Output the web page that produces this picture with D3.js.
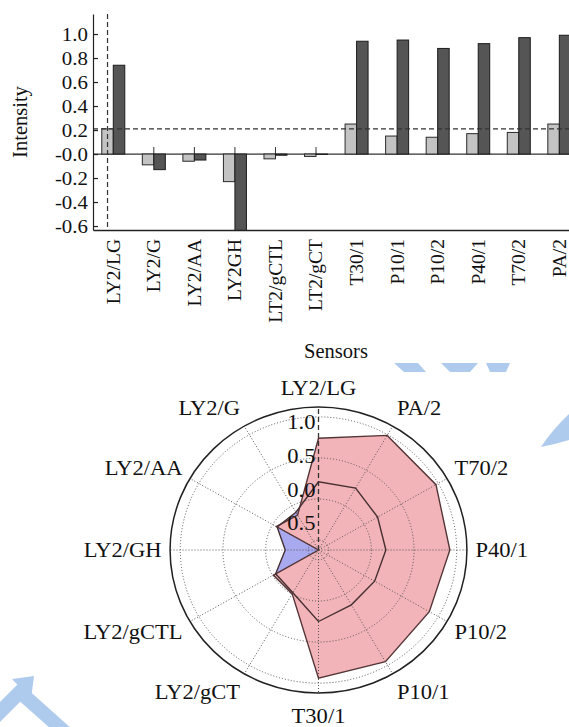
<!DOCTYPE html>
<html>
<head>
<meta charset="utf-8">
<script src="https://cdn.jsdelivr.net/npm/d3@7"></script>
<style>
  body { margin: 0; background: #fff; }
  svg { display: block; font-family: "Liberation Serif", "Times New Roman", serif; }
</style>
</head>
<body>
<svg id="chart" width="569" height="727"></svg>
<script>
// data
const sensors = ["LY2/LG", "LY2/G", "LY2/AA", "LY2GH", "LT2/gCTL", "LT2/gCT", "T30/1", "P10/1", "P10/2", "P40/1", "T70/2", "PA/2"];
const radarLabels = ["LY2/LG", "LY2/G", "LY2/AA", "LY2/GH", "LY2/gCTL", "LY2/gCT", "T30/1", "P10/1", "P10/2", "P40/1", "T70/2", "PA/2"];
const lightVals = [0.21, -0.09, -0.06, -0.23, -0.04, -0.02, 0.25, 0.15, 0.14, 0.17, 0.18, 0.25];
const darkVals = [0.74, -0.13, -0.05, -0.64, -0.01, -0.003, 0.94, 0.95, 0.88, 0.92, 0.97, 0.99];
const yTicks = [1.0, 0.8, 0.6, 0.4, 0.2, 0, -0.2, -0.4, -0.6];
const rTicks = [-0.5, 0, 0.5, 1.0];

const FONT = "Liberation Serif, Times New Roman, serif";
const svg = d3.select("#chart");
const W = 569;

// faint watermark shapes in the background
const wm = svg.append("g").attr("fill", "#aecbee").attr("stroke", "none");
wm.append("path").attr("d", "M541,447 Q552,430 569,414 L569,440 Q556,444 541,447 Z");
wm.append("path").attr("d", "M394,363 L418,363 L426,372 L404,372 Z");
wm.append("path").attr("d", "M441,363 L478,363 L470,372 L450,372 Z");
wm.append("path").attr("d", "M486,363 L510,363 L506,372 L490,372 Z");
wm.append("polyline").attr("points", "-6,718 20,692 76,742")
  .attr("fill", "none").attr("stroke", "#aecbee").attr("stroke-width", 14);
wm.append("path").attr("d", "M12,679 L34,676 L31,699 Z");

// ---------- bar chart ----------
const x = d3.scaleBand().domain(sensors).range([93, 93 + 12 * 40.55]);
const sub = d3.scaleBand().domain(["light", "dark"])
  .range([x.bandwidth() / 2 - 11.5, x.bandwidth() / 2 + 11.5]);
const y = d3.scaleLinear().domain([-0.633, 1.167]).range([230, 14]);

svg.append("clipPath").attr("id", "plotclip")
  .append("rect").attr("x", 93).attr("y", 14).attr("width", W - 93).attr("height", 216);

svg.append("line")
  .attr("x1", 93).attr("x2", W).attr("y1", y(0)).attr("y2", y(0))
  .attr("stroke", "#333").attr("stroke-width", 1.2);

svg.append("g").attr("stroke", "#333")
  .selectAll("line").data(sensors).join("line")
    .attr("x1", d => x(d) + x.bandwidth() / 2).attr("x2", d => x(d) + x.bandwidth() / 2)
    .attr("y1", y(0)).attr("y2", y(0) - 7);

const bars = svg.append("g").attr("clip-path", "url(#plotclip)");
const series = [
  { key: "light", vals: lightVals, fill: "#c3c3c3", stroke: "#2a2a2a" },
  { key: "dark", vals: darkVals, fill: "#555555", stroke: "#1c1c1c" }
];
series.forEach(s => {
  bars.append("g")
    .selectAll("rect").data(sensors).join("rect")
      .attr("x", d => x(d) + sub(s.key))
      .attr("width", sub.bandwidth())
      .attr("y", (d, i) => y(Math.max(0, s.vals[i])))
      .attr("height", (d, i) => Math.abs(y(s.vals[i]) - y(0)))
      .attr("fill", s.fill)
      .attr("stroke", s.stroke)
      .attr("stroke-width", 1);
});

// crosshair at the first light bar
const cross = svg.append("g").attr("stroke", "#333").attr("stroke-width", 1.2).attr("stroke-dasharray", "5,3");
cross.append("line")
  .attr("x1", x(sensors[0]) + sub("light") + sub.bandwidth() / 2)
  .attr("x2", x(sensors[0]) + sub("light") + sub.bandwidth() / 2)
  .attr("y1", y.range()[1]).attr("y2", y.range()[0]);
cross.append("line")
  .attr("x1", 93).attr("x2", W)
  .attr("y1", y(lightVals[0])).attr("y2", y(lightVals[0]));

const yAxis = svg.append("g")
  .attr("transform", "translate(93,0)")
  .call(d3.axisLeft(y).tickValues(yTicks).tickSize(-5).tickSizeOuter(0).tickPadding(5)
    .tickFormat(d => d === 0 ? "-0.0" : d.toFixed(1)));
yAxis.selectAll("path, line").attr("stroke", "#222").attr("stroke-width", 1.2);
yAxis.selectAll("text")
  .attr("font-size", 19).attr("font-family", FONT).attr("fill", "#111")
  .attr("x", 0).attr("transform", "translate(-5,0) scale(1.1,1)");

const xAxis = svg.append("g")
  .attr("transform", "translate(0,230)")
  .call(d3.axisBottom(x).tickSize(0).tickSizeOuter(0));
xAxis.select("path").attr("stroke", "#222").attr("stroke-width", 1.5);
xAxis.selectAll("text")
  .attr("font-size", 19.5).attr("font-family", FONT).attr("fill", "#111")
  .attr("transform", "rotate(-90)")
  .attr("text-anchor", "end")
  .attr("x", -9).attr("y", 0).attr("dy", "0.33em");

svg.append("text")
  .attr("transform", "translate(27,122) rotate(-90)")
  .attr("text-anchor", "middle").attr("font-size", 20.5).attr("font-family", FONT).attr("fill", "#111")
  .text("Intensity");
svg.append("text")
  .attr("x", 336).attr("y", 358)
  .attr("text-anchor", "middle").attr("font-size", 20.5).attr("font-family", FONT).attr("fill", "#111")
  .text("Sensors");

// ---------- radar chart ----------
const cx = 318.5, cy = 550, sx = 1.038;
const r = d3.scaleLinear().domain([-0.62, 1.12]).range([0, 143]).clamp(true);
const ang = d3.scaleLinear().domain([0, radarLabels.length]).range([Math.PI / 2, Math.PI / 2 + 2 * Math.PI]);
const px = (v, i) => cx + sx * r(v) * Math.cos(ang(i));
const py = (v, i) => cy - r(v) * Math.sin(ang(i));
const poly = d3.line().x(d => px(d.v, d.i)).y(d => py(d.v, d.i)).curve(d3.curveLinearClosed);
const pts = vals => vals.map((v, i) => ({ v, i }));

const radar = svg.append("g");

radar.append("path").attr("d", poly(pts(lightVals)))
  .attr("fill", "#a9a9f0").attr("stroke", "none");
radar.append("path").attr("d", poly(pts(darkVals)))
  .attr("fill", "#f2b4b8").attr("stroke", "none");

// grid
const rMax = r.range()[1];
radar.append("g").attr("fill", "none").attr("stroke", "#555").attr("stroke-width", 1).attr("stroke-dasharray", "1,2")
  .selectAll("ellipse").data(rTicks).join("ellipse")
    .attr("cx", cx).attr("cy", cy)
    .attr("rx", d => r(d) * sx).attr("ry", d => r(d));
radar.append("g")
  .selectAll("line").data(radarLabels).join("line")
    .attr("x1", cx).attr("y1", cy)
    .attr("x2", (d, i) => cx + sx * rMax * Math.cos(ang(i)))
    .attr("y2", (d, i) => cy - rMax * Math.sin(ang(i)))
    .attr("stroke", (d, i) => i === 0 ? "#333" : "#555")
    .attr("stroke-width", (d, i) => i === 0 ? 1.3 : 1)
    .attr("stroke-dasharray", (d, i) => i === 0 ? "5,3" : "1,2");

radar.append("path").attr("d", poly(pts(darkVals)))
  .attr("fill", "none").attr("stroke", "#553638").attr("stroke-width", 1.4);
radar.append("path").attr("d", poly(pts(lightVals)))
  .attr("fill", "none").attr("stroke", "#452f31").attr("stroke-width", 1.4);

radar.append("ellipse")
  .attr("cx", cx).attr("cy", cy).attr("rx", rMax * sx).attr("ry", rMax)
  .attr("fill", "none").attr("stroke", "#222").attr("stroke-width", 1.5);

// radial tick labels (the minus of the innermost one is not shown in the figure)
const rl = d3.scaleLinear().domain([-0.5, 1]).range([27, 128]);
radar.append("g")
  .selectAll("text").data(rTicks).join("text")
    .attr("transform", d => `translate(${cx - 3},${cy - rl(d)}) scale(1.1,1)`)
    .attr("dy", "0.35em")
    .attr("text-anchor", "end").attr("font-size", 20.5).attr("font-family", FONT).attr("fill", "#111")
    .text(d => Math.abs(d).toFixed(1));

// category labels around the circle
radar.append("g")
  .selectAll("text").data(radarLabels).join("text")
    .attr("transform", (d, i) => {
      const c = Math.cos(ang(i)), s = Math.sin(ang(i));
      const tx = cx + (Math.abs(c) < 0.01 ? 0 : 157 * c);
      const ty = cy - 164 * s + (s < -0.9 ? 2 : 0) + (s > 0.9 ? 2 : 0);
      return `translate(${tx},${ty}) scale(1.1,1)`;
    })
    .attr("dy", "0.35em")
    .attr("text-anchor", (d, i) => {
      const c = Math.cos(ang(i));
      return Math.abs(c) < 0.01 ? "middle" : (c > 0 ? "start" : "end");
    })
    .attr("font-size", 20.5).attr("font-family", FONT).attr("fill", "#111")
    .text(d => d);
</script>
</body>
</html>
